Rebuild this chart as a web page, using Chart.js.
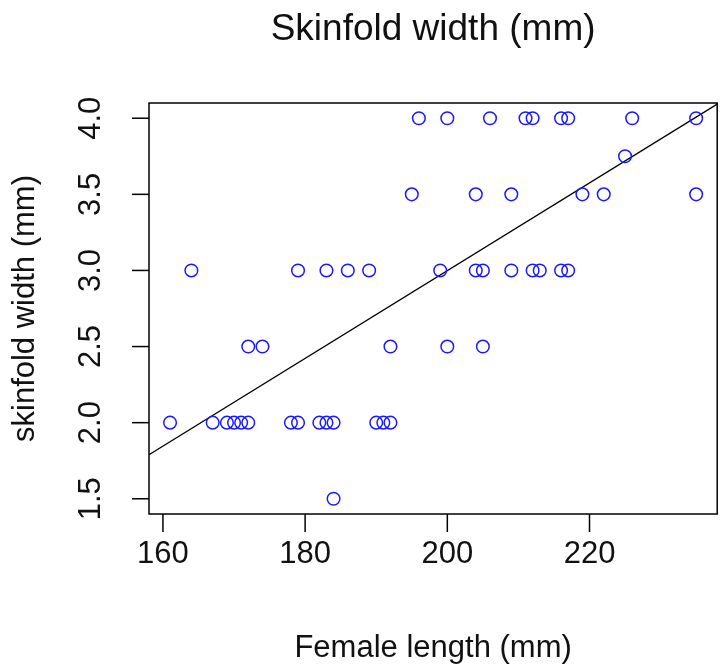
<!DOCTYPE html>
<html>
<head>
<meta charset="utf-8">
<script src="https://cdn.jsdelivr.net/npm/chart.js@4.4.1/dist/chart.umd.min.js"></script>
<style>
  body { margin: 0; background: #fff; }
</style>
</head>
<body>
<canvas id="skinfoldChart" width="725" height="666"></canvas>
<script>
// Values
const femaleLength = [161, 164, 167, 169, 170, 171, 172, 172, 174, 178,
                      179, 179, 182, 183, 183, 184, 184, 186, 189, 190,
                      191, 192, 192, 195, 196, 199, 200, 200, 204, 204,
                      205, 205, 206, 209, 209, 211, 212, 212, 213, 216,
                      217, 216, 217, 219, 222, 225, 226, 235, 235];
const skinfoldWidth = [2.0, 3.0, 2.0, 2.0, 2.0, 2.0, 2.0, 2.5, 2.5, 2.0,
                       2.0, 3.0, 2.0, 2.0, 3.0, 2.0, 1.5, 3.0, 3.0, 2.0,
                       2.0, 2.0, 2.5, 3.5, 4.0, 3.0, 4.0, 2.5, 3.5, 3.0,
                       3.0, 2.5, 4.0, 3.5, 3.0, 4.0, 4.0, 3.0, 3.0, 4.0,
                       4.0, 3.0, 3.0, 3.5, 3.5, 3.75, 4.0, 4.0, 3.5];
const xTicks = [160, 180, 200, 220];
const yTicks = [1.5, 2.0, 2.5, 3.0, 3.5, 4.0];
const xRange = [158.04, 237.96];
const yRange = [1.4, 4.1];

const mainTitle = 'Skinfold width (mm)';
const xTitle = 'Female length (mm)';
const yTitle = 'skinfold width (mm)';

// least squares fit, like abline(lm(y ~ x))
const n = femaleLength.length;
const mx = femaleLength.reduce((a, b) => a + b, 0) / n;
const my = skinfoldWidth.reduce((a, b) => a + b, 0) / n;
let sxy = 0, sxx = 0;
for (let i = 0; i < n; i++) {
    sxy += (femaleLength[i] - mx) * (skinfoldWidth[i] - my);
    sxx += (femaleLength[i] - mx) ** 2;
}
const slope = sxy / sxx;
const intercept = my - slope * mx;

const points = femaleLength.map((x, i) => ({ x: x, y: skinfoldWidth[i] }));
const fitLine = xRange.map(x => ({ x: x, y: intercept + slope * x }));

const FONT = "'Liberation Sans', Arial, sans-serif";

// R-style box, ticks and labels drawn from the chart scales
const baseAxes = {
    id: 'baseAxes',
    afterDraw(chart) {
        const ctx = chart.ctx;
        const area = chart.chartArea;
        const xs = chart.scales.x;
        const ys = chart.scales.y;
        ctx.save();
        ctx.strokeStyle = '#000';
        ctx.lineWidth = 1.5;
        ctx.strokeRect(area.left, area.top, area.right - area.left, area.bottom - area.top);

        ctx.fillStyle = '#111';
        ctx.font = '31px ' + FONT;
        ctx.textAlign = 'center';
        ctx.textBaseline = 'middle';

        xTicks.forEach(t => {
            const px = xs.getPixelForValue(t);
            ctx.beginPath();
            ctx.moveTo(px, area.bottom);
            ctx.lineTo(px, area.bottom + 18);
            ctx.stroke();
            ctx.fillText(String(t), px, 554);
        });

        yTicks.forEach(t => {
            const py = ys.getPixelForValue(t);
            ctx.beginPath();
            ctx.moveTo(area.left, py);
            ctx.lineTo(area.left - 17, py);
            ctx.stroke();
            ctx.save();
            ctx.translate(91, py);
            ctx.rotate(-Math.PI / 2);
            ctx.fillText(t.toFixed(1), 0, 0);
            ctx.restore();
        });

        ctx.fillText(xTitle, (area.left + area.right) / 2, 648);

        ctx.save();
        ctx.translate(25, (area.top + area.bottom) / 2);
        ctx.rotate(-Math.PI / 2);
        ctx.fillText(yTitle, 0, 0);
        ctx.restore();

        ctx.font = '37px ' + FONT;
        ctx.fillText(mainTitle, (area.left + area.right) / 2, 30);
        ctx.restore();
    }
};

new Chart(document.getElementById('skinfoldChart'), {
    type: 'scatter',
    data: {
        datasets: [{
            label: 'data',
            data: points,
            pointStyle: 'circle',
            pointRadius: 6.3,
            pointBorderWidth: 1.5,
            pointBorderColor: '#1a1aff',
            pointBackgroundColor: 'rgba(0,0,0,0)'
        }, {
            type: 'line',
            label: 'fit',
            data: fitLine,
            borderColor: '#000',
            borderWidth: 1.2,
            pointRadius: 0,
            fill: false
        }]
    },
    options: {
        responsive: false,
        animation: false,
        layout: {
            padding: { left: 149, top: 103, right: 3, bottom: 152 }
        },
        plugins: {
            legend: { display: false },
            tooltip: { enabled: false }
        },
        scales: {
            x: { type: 'linear', min: xRange[0], max: xRange[1], display: false },
            y: { type: 'linear', min: yRange[0], max: yRange[1], display: false }
        }
    },
    plugins: [baseAxes]
});
</script>
</body>
</html>
